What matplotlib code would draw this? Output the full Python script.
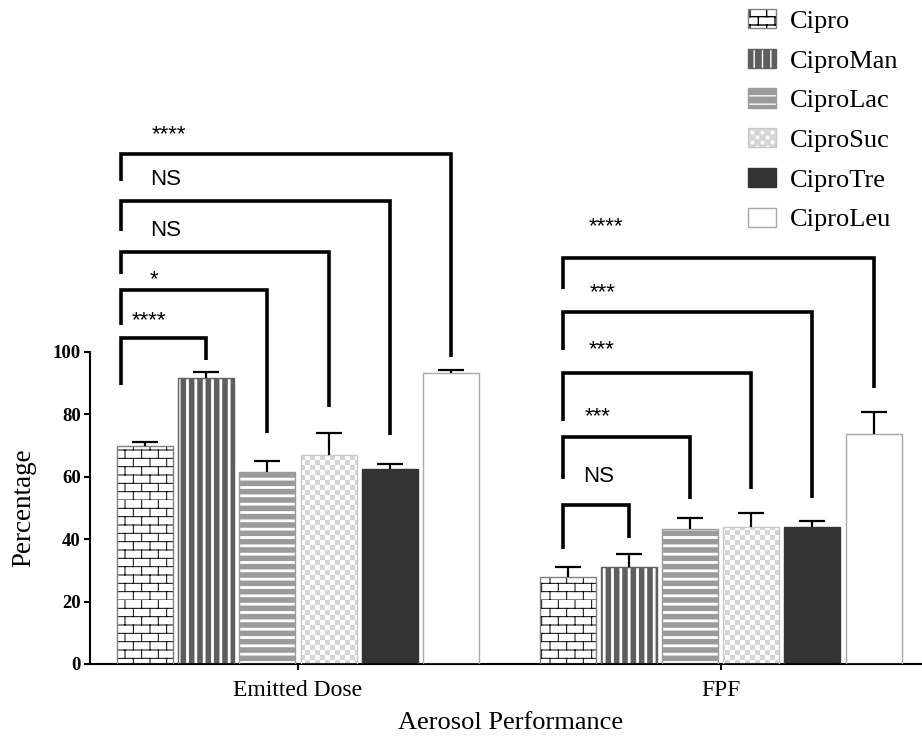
import warnings
import numpy as np
import matplotlib
matplotlib.use('Agg')
import matplotlib.pyplot as plt
from matplotlib import hatch as mhatch
from matplotlib.path import Path
from matplotlib.legend_handler import HandlerTuple

warnings.filterwarnings('ignore')

groups = ['Emitted Dose', 'FPF']
formulations = ['Cipro', 'CiproMan', 'CiproLac', 'CiproSuc', 'CiproTre', 'CiproLeu']
emitted_mean = [69.8, 91.4, 61.5, 66.8, 62.4, 93.0]
emitted_err = [1.2, 2.0, 3.5, 7.1, 1.5, 1.1]
fpf_mean = [27.7, 31.0, 43.2, 43.9, 43.8, 73.6]
fpf_err = [3.4, 4.2, 3.6, 4.5, 2.0, 6.9]

# significance vs Cipro: (bar, top, left leg end, right leg end, label, label y, label shift)
emitted_sig = [
    (1, 104.3, 89.3, 97.3, '****', 108.2, -0.21),
    (2, 119.7, 108.5, 73.9, '*', 121.3, 0.08),
    (3, 131.9, 124.8, 82.2, 'NS', 137.0, 0.08),
    (4, 148.3, 138.7, 73.3, 'NS', 153.3, 0.08),
    (5, 163.1, 154.7, 98.2, '****', 167.7, 0.11),
]
fpf_sig = [
    (1, 50.9, 36.7, 40.4, 'NS', 58.3, 0.25),
    (2, 72.7, 59.1, 52.7, '***', 77.4, 0.28),
    (3, 93.2, 77.9, 56.0, '***', 98.9, 0.34),
    (4, 112.7, 100.5, 53.2, '***', 117.1, 0.36),
    (5, 130.0, 120.0, 88.4, '****', 138.2, 0.34),
]


# extra hatch patterns: 'B' = brick wall, 'C' = checkerboard
class BrickHatch(mhatch.HatchPatternBase):
    def __init__(self, hatch, density):
        self.rows = hatch.count('B') * 12
        self.cols = 6
        self.num_vertices = self.rows * (self.cols + 1) * 2

    def set_vertices_and_codes(self, vertices, codes):
        segs = []
        for i in range(self.rows):
            y0, y1 = i / self.rows, (i + 1) / self.rows
            segs.append([(0, y0), (1, y0)])
            for k in range(self.cols):
                x = (k + 0.5 * (i % 2)) / self.cols
                segs.append([(x, y0), (x, y1)])
        vertices[:] = np.array(segs).reshape(-1, 2)
        codes[0::2] = Path.MOVETO
        codes[1::2] = Path.LINETO


class CheckerHatch(mhatch.HatchPatternBase):
    def __init__(self, hatch, density):
        self.n = hatch.count('C') * 20
        self.num_vertices = (self.n * self.n // 2) * 5

    def set_vertices_and_codes(self, vertices, codes):
        s = 1.0 / self.n
        squares = []
        for i in range(self.n):
            for j in range(self.n):
                if (i + j) % 2 == 0:
                    x, y = j * s, i * s
                    squares.append([(x, y), (x + s, y), (x + s, y + s), (x, y + s), (x, y)])
        vertices[:] = np.array(squares).reshape(-1, 2)
        codes[:] = np.tile([Path.MOVETO, Path.LINETO, Path.LINETO,
                            Path.LINETO, Path.CLOSEPOLY], len(squares))


mhatch._hatch_types.extend([BrickHatch, CheckerHatch])

# face, hatch, hatch colour, hatch width, outline
styles = [
    ('white', 'B', 'black', 0.7, '#808080'),
    ('#5e5e5e', '||', 'white', 2.0, '#5e5e5e'),
    ('#9b9b9b', '--', 'white', 2.0, '#9b9b9b'),
    ('white', 'C', '#d6d6d6', 0.01, '#c8c8c8'),
    ('#333333', None, '#333333', 1.0, '#333333'),
    ('white', None, 'white', 1.0, '#a8a8a8'),
]

plt.rcParams['font.family'] = 'Liberation Serif'

fig = plt.figure(figsize=(9.22, 7.39), dpi=100)
ax = fig.add_axes([90 / 922, 75 / 739, 832 / 922, 664 / 739])

gap = 6.91
width = 0.915
emitted_x = np.arange(6)
fpf_x = gap + np.arange(6)

handles = []
for i, name in enumerate(formulations):
    face, hatch, hcol, hlw, edge = styles[i]
    xs = [emitted_x[i], fpf_x[i]]
    ys = [emitted_mean[i], fpf_mean[i]]
    with plt.rc_context({'hatch.linewidth': hlw}):
        b1 = ax.bar(xs, ys, width, color=face, hatch=hatch, edgecolor=hcol,
                    linewidth=0, zorder=2)
    for p in b1:
        if hasattr(p, 'set_hatch_linewidth'):
            p.set_hatch_linewidth(hlw)
    b2 = ax.bar(xs, ys, width, fill=False, edgecolor=edge, linewidth=1.0, zorder=3)
    handles.append((b1[0], b2[0]))

    eb = ax.errorbar(xs, ys, yerr=[[0, 0], [emitted_err[i], fpf_err[i]]], fmt='none',
                     ecolor='black', elinewidth=1.6, capsize=9.5, capthick=1.6, zorder=4)
    eb[1][0].set_visible(False)

for xpos, sig, left_off in [(emitted_x, emitted_sig, -0.39), (fpf_x, fpf_sig, -0.08)]:
    for target, top, lend, rend, label, ly, ldx in sig:
        xl = xpos[0] + left_off
        xr = xpos[target]
        ax.plot([xl, xl, xr, xr], [lend, top, top, rend], color='black', lw=2.6,
                solid_joinstyle='miter', solid_capstyle='butt', zorder=5)
        ax.text(xpos[0] + ldx, ly, label, ha='left', va='baseline',
                family='Liberation Sans', fontsize=16)

ax.set_xlim(-0.899, 12.70)
ax.set_ylim(0, 212.5)
ax.spines['top'].set_visible(False)
ax.spines['right'].set_visible(False)
ax.spines['left'].set_bounds(0, 100)
ax.spines['left'].set_linewidth(1.5)
ax.spines['bottom'].set_linewidth(1.5)
ax.set_yticks([0, 20, 40, 60, 80, 100])
ax.set_xticks([emitted_x.mean(), fpf_x.mean()])
ax.set_xticklabels(groups, fontsize=17)
ax.tick_params(axis='both', width=1.5, length=4.5)
ax.tick_params(axis='x', pad=7)
ax.tick_params(axis='y', pad=2, labelsize=13.5)
for t in ax.get_yticklabels():
    t.set_fontweight('bold')

ax.set_ylabel('Percentage', fontsize=19.5)
ax.yaxis.set_label_coords(-0.064, 50 / 212.5)
ax.set_xlabel('Aerosol Performance', fontsize=19)
ax.xaxis.set_label_coords(0.506, -0.073)

fig.legend(handles, formulations, handler_map={tuple: HandlerTuple(ndivide=1)},
           loc='upper left', bbox_to_anchor=(748 / 922, 1 - 9 / 739), frameon=False,
           fontsize=19, handlelength=1.05, handleheight=0.75, handletextpad=0.55,
           labelspacing=0.6, borderpad=0, borderaxespad=0)

fig.savefig('out.png', dpi=100)
